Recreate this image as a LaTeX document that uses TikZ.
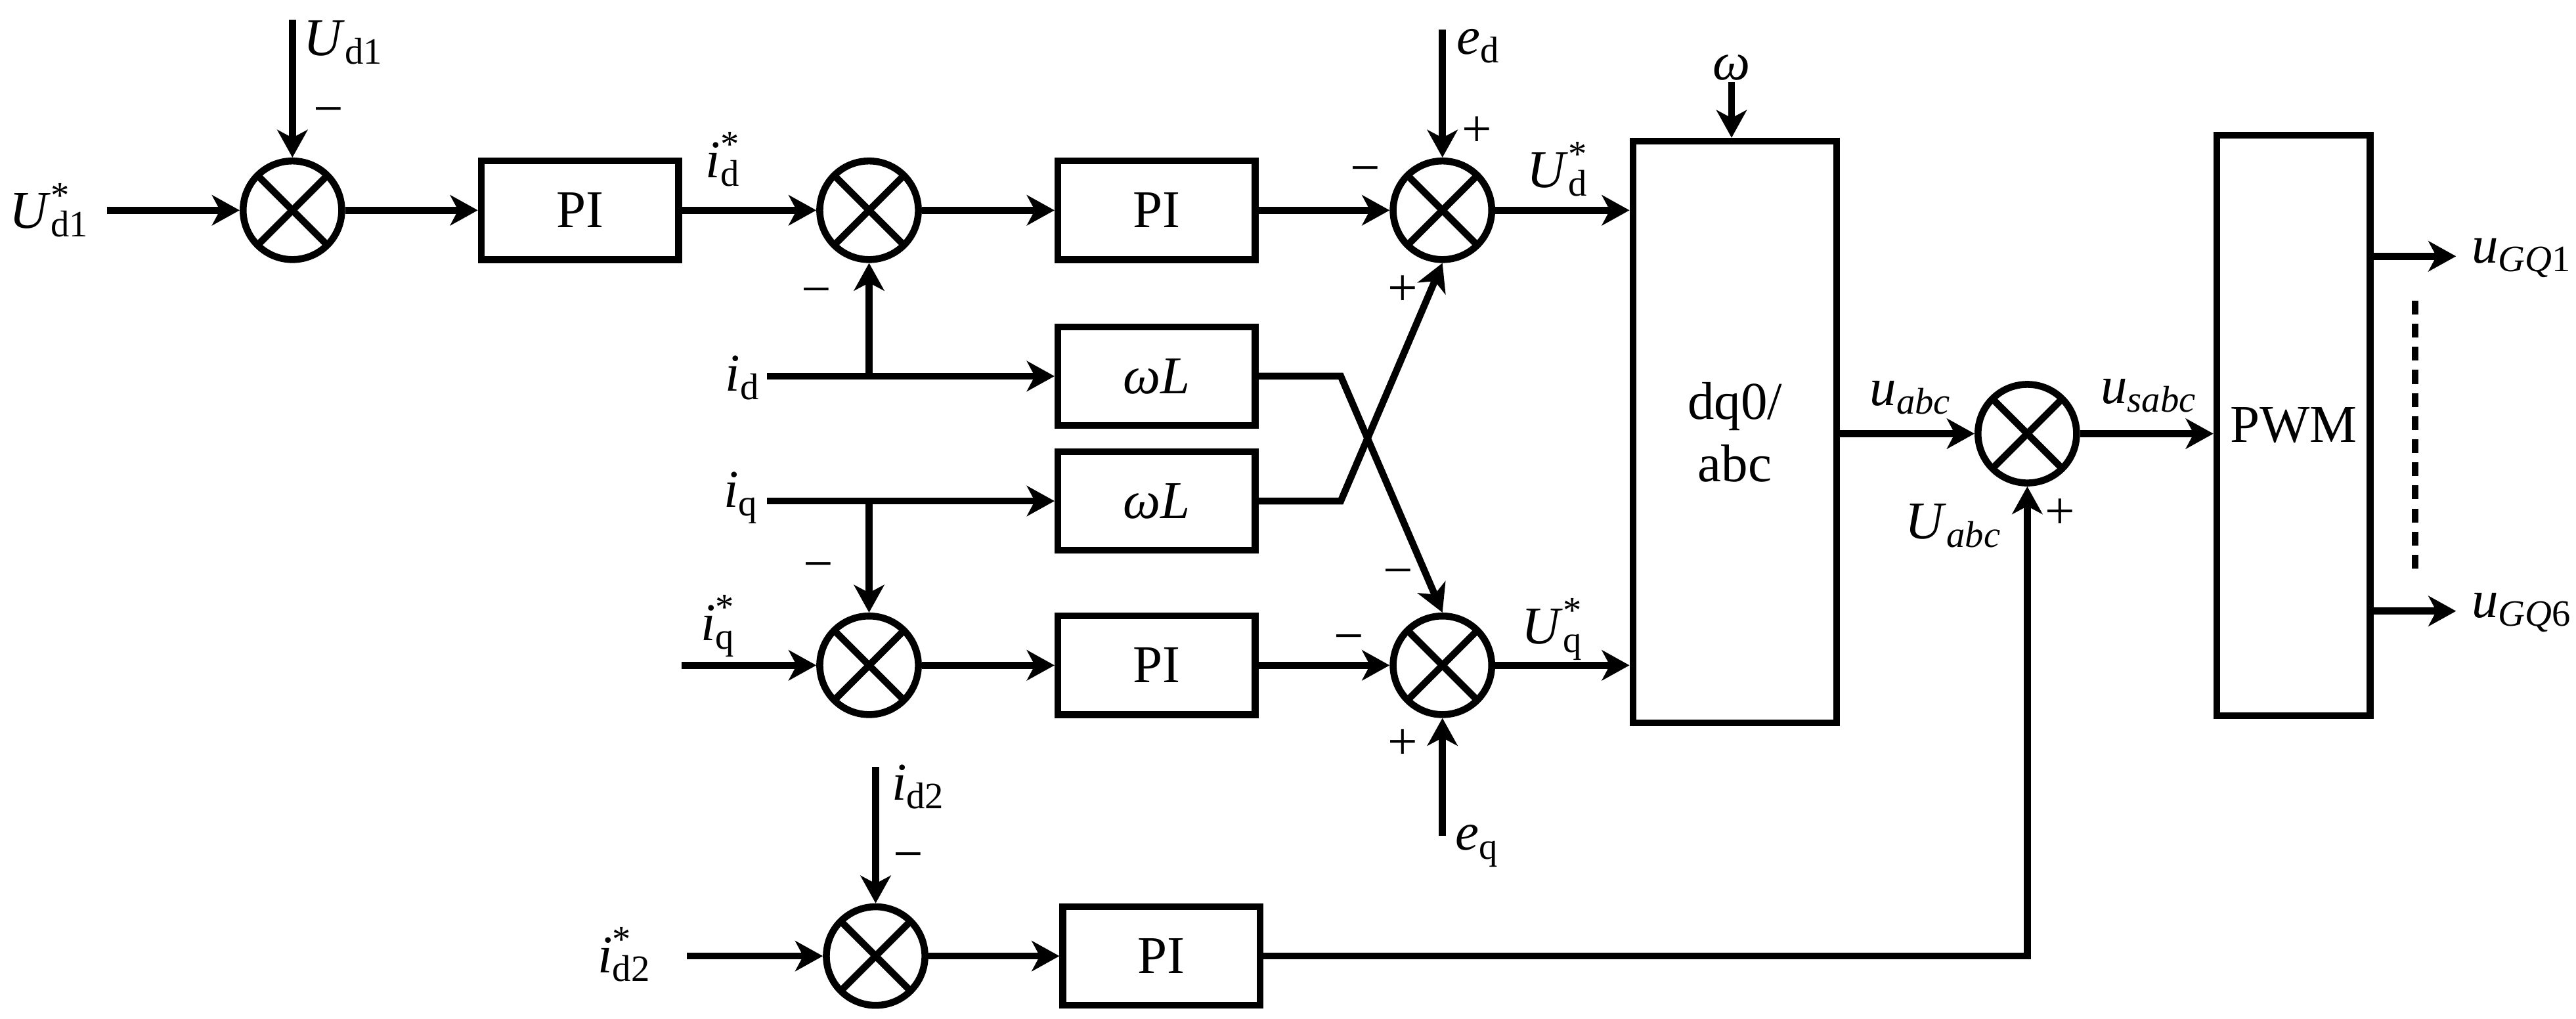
\documentclass[tikz,border=0pt]{standalone}
\usepackage{fontspec}
\setmainfont{Liberation Serif}
\usetikzlibrary{arrows.meta,positioning}

\newcommand{\starsub}[2]{\textit{#1}\rlap{\textsuperscript{*}}\textsubscript{#2}}
\newcommand{\vsub}[2]{\textit{#1}\textsubscript{#2}}

\begin{document}
\begin{tikzpicture} [
  x=0.025cm, y=-0.025cm,
  line width=3pt,
  >={Stealth[length=0.42cm,width=0.46cm,inset=0.12cm]},
  sum/.style={circle, draw, minimum size=1.5cm, inner sep=0pt,
    path picture={\draw (path picture bounding box.north west) -- (path picture bounding box.south east)
      (path picture bounding box.north east) -- (path picture bounding box.south west);}},
  blk/.style={draw, minimum width=3cm, minimum height=1.5cm, inner sep=0pt},
  lbl/.style={inner sep=0pt},
  font=\fontsize{23}{27}\selectfont]
\useasboundingbox (0,0) rectangle (1568,620);
% blocks
\node[sum] (s1) at (178,128) {};
\node[blk] (pi1) at (353,128) {PI};
\node[sum] (s2) at (529,128) {};
\node[blk] (pi2) at (704,128) {PI};
\node[sum] (s3) at (878,128) {};
\node[blk] (wl1) at (704,229) {\textit{ωL}};
\node[blk] (wl2) at (704,305) {\textit{ωL}};
\node[sum] (s5) at (529,405) {};
\node[blk] (pi3) at (704,405) {PI};
\node[sum] (s6) at (878,405) {};
\node[blk, minimum width=3.1cm, minimum height=8.85cm, align=center] (dq) at (1056,263) {dq0/\\abc};
\node[sum] (s4) at (1234,264) {};
\node[blk, minimum width=2.33cm, minimum height=8.83cm] (pwm) at (1396,259) {PWM};
\node[sum] (s7) at (533,582) {};
\node[blk] (pi4) at (707,582) {PI};
% free ends
\coordinate (ud1in) at (65,128);
\coordinate (ud1top) at (178,12);
\coordinate (edtop) at (878,18);
\coordinate (omtop) at (1054,50);
\coordinate (idin) at (467,229);
\coordinate (iqin) at (467,305);
\coordinate (jd) at (529,229);
\coordinate (jq) at (529,305);
\coordinate (iqsin) at (415,405);
\coordinate (eqbot) at (878,509);
\coordinate (id2top) at (533,467);
\coordinate (id2sin) at (418,582);
\coordinate (g1) at (1495,156);
\coordinate (g6) at (1495,372);
% connectors
\draw[->] (ud1in) -- (s1);
\draw[->] (ud1top) -- (s1);
\draw[->] (s1) -- (pi1);
\draw[->] (pi1) -- (s2);
\draw[->] (s2) -- (pi2);
\draw[->] (pi2) -- (s3);
\draw[->] (edtop) -- (s3);
\draw[->] (s3) -- (s3 -| dq.west);
\draw[->] (omtop) -- (omtop |- dq.north);
\draw[->] (idin) -- (wl1);
\draw[->] (jd) -- (s2);
\draw[->] (iqin) -- (wl2);
\draw[->] (jq) -- (s5);
\draw[->] (iqsin) -- (s5);
\draw[->] (s5) -- (pi3);
\draw[->] (pi3) -- (s6);
\draw[->] (eqbot) -- (s6);
\draw[->] (s6) -- (s6 -| dq.west);
\draw[->] (wl1.east) -- ++(50,0) -- (s6.north);
\draw[->] (wl2.east) -- ++(50,0) -- (s3.south);
\draw[->] (dq.east |- s4) -- (s4);
\draw[->] (s4) -- (s4 -| pwm.west);
\draw[->] (id2top) -- (s7);
\draw[->] (id2sin) -- (s7);
\draw[->] (s7) -- (pi4);
\draw[->] (pi4) -| (s4);
\draw[->] (pwm.east |- g1) -- (g1);
\draw[->] (pwm.east |- g6) -- (g6);
\draw[dash pattern=on 6pt off 4pt] (1470,183) -- (1470,347);
% labels
\node[lbl] at (30,128) {\starsub{U}{d1}};
\node[lbl] at (209,26) {\vsub{U}{d1}};
\node[lbl] at (200,71) {−};
\node[lbl] at (440,97) {\starsub{i}{d}};
\node[lbl] at (900,28) {\vsub{e}{d}};
\node[lbl] at (899,80) {+};
\node[lbl] at (831,107) {−};
\node[lbl] at (854,177) {+};
\node[lbl] at (948,103) {\starsub{U}{d}};
\node[lbl] at (1054,41) {\textit{ω}};
\node[lbl] at (452,230) {\vsub{i}{d}};
\node[lbl] at (451,303) {\vsub{i}{q}};
\node[lbl] at (497,181) {−};
\node[lbl] at (498,348) {−};
\node[lbl] at (437,381) {\starsub{i}{q}};
\node[lbl] at (821,392) {−};
\node[lbl] at (851,352) {−};
\node[lbl] at (854,453) {+};
\node[lbl] at (899,515) {\vsub{e}{q}};
\node[lbl] at (945,383) {\starsub{U}{q}};
\node[lbl] at (1163,242) {\vsub{u}{\textit{abc}}};
\node[lbl] at (1308,241) {\vsub{u}{\textit{sabc}}};
\node[lbl] at (1189,320) {\vsub{U}{\textit{abc}}};
\node[lbl] at (1254,313) {+};
\node[lbl] at (559,479) {\vsub{i}{d2}};
\node[lbl] at (553,525) {−};
\node[lbl] at (380,581) {\starsub{i}{d2}};
\node[lbl] at (1535,157) {\vsub{u}{\textit{GQ}1}};
\node[lbl] at (1535,373) {\vsub{u}{\textit{GQ}6}};
\end{tikzpicture}
\end{document}
